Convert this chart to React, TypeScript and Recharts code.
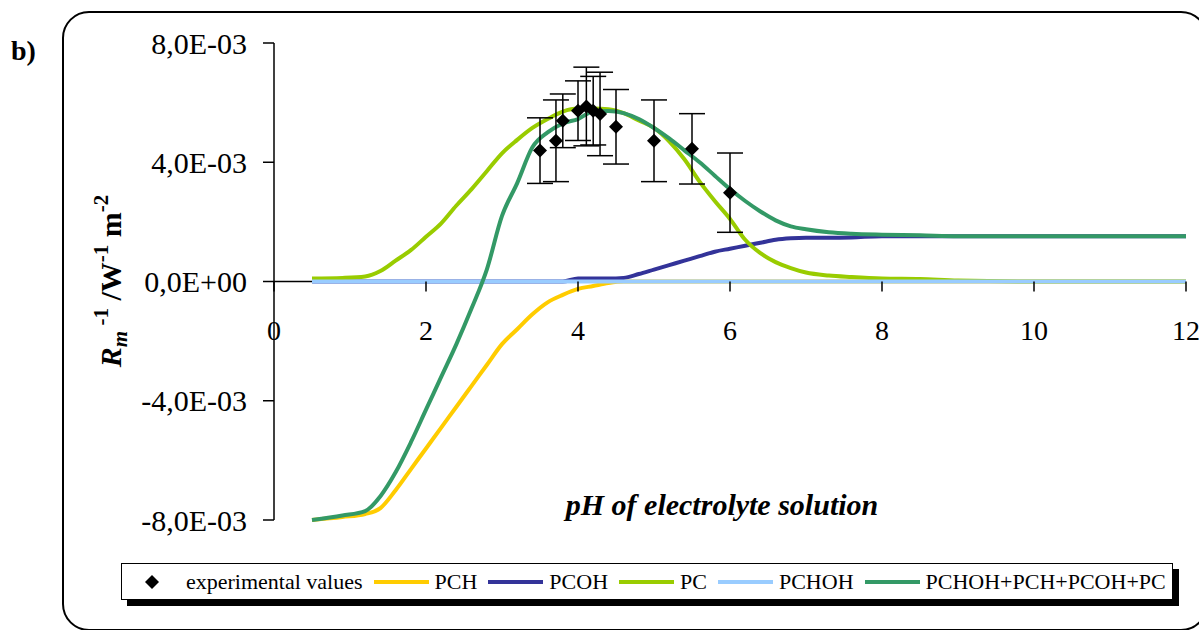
import { ComposedChart, Line, Scatter, ErrorBar, XAxis, YAxis, ReferenceLine, Legend } from 'recharts';

// pH grid for the model curves (values in units of 1E-03)
const phGrid = [0.5, 0.9, 1.2, 1.4, 1.6, 1.8, 2.0, 2.2, 2.4, 2.6, 2.8, 3.0, 3.2, 3.4, 3.6, 3.8, 4.0, 4.2, 4.4, 4.6, 4.8, 5.0, 5.2, 5.4, 5.6, 5.8, 6.0, 6.2, 6.4, 6.6, 6.8, 7.0, 7.3, 7.6, 8.0, 8.5, 9.0, 10, 11, 12];
const pch = [-8.0, -7.9, -7.8, -7.6, -7.0, -6.3, -5.6, -4.9, -4.2, -3.5, -2.8, -2.1, -1.6, -1.1, -0.7, -0.45, -0.25, -0.15, -0.05, 0, 0, 0, 0, 0, 0, 0, 0, 0, 0, 0, 0, 0, 0, 0, 0, 0, 0, 0, 0, 0];
const pcoh = [0, 0, 0, 0, 0, 0, 0, 0, 0, 0, 0, 0, 0, 0, 0, 0, 0.1, 0.1, 0.1, 0.12, 0.25, 0.4, 0.55, 0.7, 0.85, 1.0, 1.1, 1.2, 1.3, 1.4, 1.45, 1.47, 1.47, 1.48, 1.52, 1.52, 1.52, 1.52, 1.52, 1.52];
const pc = [0.1, 0.12, 0.17, 0.35, 0.7, 1.05, 1.5, 1.95, 2.55, 3.1, 3.7, 4.3, 4.75, 5.15, 5.45, 5.7, 5.8, 5.8, 5.78, 5.65, 5.4, 5.15, 4.7, 4.1, 3.35, 2.7, 2.1, 1.4, 0.95, 0.65, 0.45, 0.3, 0.2, 0.15, 0.1, 0.08, 0.03, 0, 0, 0];
const pchoh = phGrid.map(() => 0);
const total = [-8.0, -7.85, -7.7, -7.2, -6.4, -5.4, -4.3, -3.2, -2.1, -0.9, 0.4, 2.2, 3.3, 4.5, 5.0, 5.3, 5.45, 5.7, 5.72, 5.65, 5.45, 5.15, 4.8, 4.4, 4.0, 3.55, 3.1, 2.7, 2.35, 2.05, 1.85, 1.75, 1.65, 1.6, 1.57, 1.55, 1.52, 1.52, 1.52, 1.52];

// experimental values with error bars
const expPH = [3.5, 3.71, 3.8, 4.0, 4.11, 4.2, 4.29, 4.5, 5.0, 5.5, 6.0];
const expVal = [4.39, 4.72, 5.39, 5.73, 5.87, 5.73, 5.62, 5.19, 4.72, 4.45, 2.98];
const expErr = [1.1, 1.37, 0.9, 1.0, 1.32, 1.15, 1.4, 1.25, 1.37, 1.18, 1.33];

const xTicks = [0, 2, 4, 6, 8, 10, 12];
const yTicks = [-8, -4, 0, 4, 8];

const series = [
  { key: 'pch', name: 'PCH', color: '#ffcc00' },
  { key: 'pcoh', name: 'PCOH', color: '#333399' },
  { key: 'pc', name: 'PC', color: '#99cc00' },
  { key: 'pchoh', name: 'PCHOH', color: '#99ccff' },
  { key: 'total', name: 'PCHOH+PCH+PCOH+PC', color: '#339966' },
];

const curveData = phGrid.map((ph, i) => ({ ph, pch: pch[i], pcoh: pcoh[i], pc: pc[i], pchoh: pchoh[i], total: total[i] }));
const expData = expPH.map((ph, i) => ({ ph, val: expVal[i], err: expErr[i] }));

const FONT = '"Liberation Serif", "Times New Roman", serif';
const W = 1199;
const H = 630;
const TOP = 43;
const BOTTOM = 520;
const Y_MIN = -8;
const Y_MAX = 8;
const zeroY = TOP + ((BOTTOM - TOP) * Y_MAX) / (Y_MAX - Y_MIN);

const fmtY = (v: number) => (v === 0 ? '0,0E+00' : `${v < 0 ? '-' : ''}${Math.abs(v)},0E-03`);

function XTick({ x, payload }: any) {
  return (
    <g>
      <line x1={x} x2={x} y1={zeroY} y2={zeroY + 10} stroke="#000" strokeWidth={1.5} />
      <text x={x} y={zeroY + 58} textAnchor="middle" fontSize={28} fontFamily={FONT} fill="#000">{payload.value}</text>
    </g>
  );
}

function Diamond({ cx, cy }: any) {
  return <polygon points={`${cx},${cy - 7} ${cx + 7},${cy} ${cx},${cy + 7} ${cx - 7},${cy}`} fill="#000" />;
}

function LegendBox() {
  return (
    <div style={{ position: 'absolute', left: 121, top: 563, width: 1052, height: 37, boxSizing: 'border-box', border: '1.5px solid #000', background: '#fff', boxShadow: '6px 6px 0 #000', overflow: 'hidden', display: 'flex', alignItems: 'center', fontFamily: FONT, fontSize: 22, whiteSpace: 'nowrap', color: '#000' }}>
      <svg width={14} height={14} style={{ marginLeft: 23, marginRight: 27, flex: 'none' }}>
        <polygon points="7,0 14,7 7,14 0,7" fill="#000" />
      </svg>
      <span style={{ marginRight: 11 }}>experimental values</span>
      {series.map(s => (
        <span key={s.key} style={{ display: 'flex', alignItems: 'center', marginRight: 11 }}>
          <span style={{ display: 'inline-block', width: 55, height: 4, background: s.color, marginRight: 6 }} />
          <span>{s.name}</span>
        </span>
      ))}
    </div>
  );
}

export default function App() {
  return (
    <div style={{ position: 'absolute', left: 0, top: 0, width: W, height: H, background: '#fff', overflow: 'hidden' }}>
      <svg width={W} height={H} style={{ position: 'absolute', left: 0, top: 0 }}>
        <rect x={63} y={12} width={1144} height={618} rx={26} ry={26} fill="#fff" stroke="#000" strokeWidth={2} />
        <text x={11} y={60} fontSize={28} fontWeight="bold" fontFamily={FONT} fill="#000">b)</text>
      </svg>
      <div style={{ position: 'absolute', left: 0, top: 0 }}>
        <ComposedChart width={W} height={H} data={curveData} margin={{ top: TOP, right: 13, bottom: H - BOTTOM - 30, left: 0 }}>
          <XAxis dataKey="ph" type="number" domain={[0, 12]} ticks={xTicks} axisLine={false} tickLine={false} tick={<XTick />} height={30} interval={0} />
          <YAxis type="number" domain={[Y_MIN, Y_MAX]} ticks={yTicks} width={274} tickFormatter={fmtY} tickSize={11} tickMargin={16} interval={0}
            axisLine={{ stroke: '#000', strokeWidth: 1.5 }} tickLine={{ stroke: '#000', strokeWidth: 1.5 }}
            tick={{ fontSize: 30, fontFamily: FONT, fill: '#000' }} />
          <ReferenceLine y={0} stroke="#000" strokeWidth={1.5} />
          {series.map(s => (
            <Line key={s.key} type="monotone" dataKey={s.key} name={s.name} stroke={s.color} strokeWidth={4} dot={false} isAnimationActive={false} />
          ))}
          <Scatter data={expData} dataKey="val" name="experimental values" shape={<Diamond />} isAnimationActive={false}>
            <ErrorBar dataKey="err" direction="y" width={13} stroke="#000" strokeWidth={1.5} />
          </Scatter>
          <Legend layout="vertical" align="center" verticalAlign="middle" content={() => null} wrapperStyle={{ display: 'none' }} />
        </ComposedChart>
      </div>
      <svg width={W} height={H} style={{ position: 'absolute', left: 0, top: 0, pointerEvents: 'none' }}>
        <text x={722} y={515} textAnchor="middle" fontSize={30} fontWeight="bold" fontStyle="italic" fontFamily={FONT} fill="#000">pH of electrolyte solution</text>
        <text transform="translate(121,281) rotate(-90)" textAnchor="middle" fontFamily={FONT} fontWeight="bold" fontSize={30} fill="#000">
          <tspan fontStyle="italic">R</tspan>
          <tspan fontStyle="italic" fontSize={21} dy={6}>m</tspan>
          <tspan fontSize={21} dy={-19}> -1</tspan>
          <tspan dy={13}> /W</tspan>
          <tspan fontSize={21} dy={-13}>-1</tspan>
          <tspan dy={13}> m</tspan>
          <tspan fontSize={21} dy={-13}>-2</tspan>
        </text>
      </svg>
      <LegendBox />
    </div>
  );
}
